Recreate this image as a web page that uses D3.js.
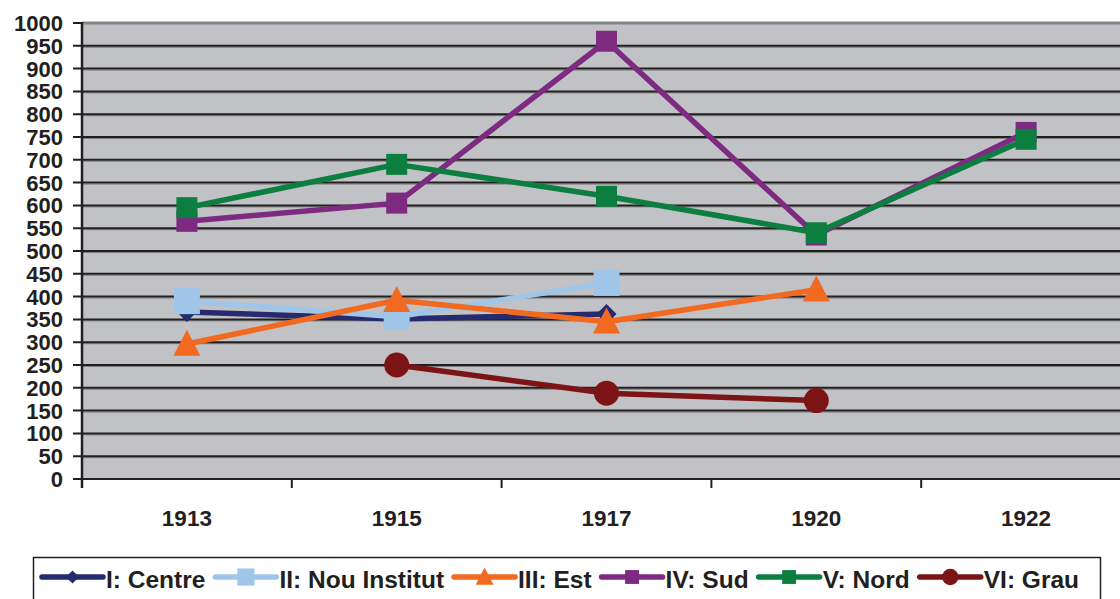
<!DOCTYPE html>
<html>
<head>
<meta charset="utf-8">
<script src="https://cdn.jsdelivr.net/npm/d3@7"></script>
<style>
  body { margin: 0; background: #fff; }
  text { font-family: "Liberation Sans", Arial, sans-serif; font-weight: bold; fill: #231f20; }
</style>
</head>
<body>
<div class="chart"></div>
<script>
const years = ["1913", "1915", "1917", "1920", "1922"];
const yTicks = d3.range(0, 1001, 50);

const centre = [366, 351, 362, null, null];
const nouInstitut = [390, 356, 430, null, null];
const est = [296, 392, 345, 415, null];
const sud = [565, 605, 960, 535, 760];
const nord = [595, 690, 620, 540, 745];
const grau = [null, 250, 188, 172, null];

const seriesNames = ["I: Centre", "II: Nou Institut", "III: Est", "IV: Sud", "V: Nord", "VI: Grau"];
const seriesValues = [centre, nouInstitut, est, sud, nord, grau];
const seriesColors = ["#262a6e", "#9fc6e8", "#f26a21", "#7e2a80", "#0b7e40", "#7c1416"];
const seriesMarkers = ["diamond", "square", "triangle", "square", "square", "circle"];
const seriesMarkerSize = [20, 26, 26, 21, 21, 25];

const W = 1120, H = 599;
const margin = { top: 23, left: 82, bottom: 119 };
const plotRight = 1131;

const svg = d3.select(".chart").append("svg")
  .attr("width", W).attr("height", H);

const x = d3.scaleBand().domain(years).range([margin.left, plotRight]).padding(0);
const y = d3.scaleLinear().domain([0, 1000]).range([H - margin.bottom - 1, margin.top]);

// plot background
svg.append("rect")
  .attr("x", margin.left).attr("y", y(1000))
  .attr("width", plotRight - margin.left).attr("height", y(0) - y(1000))
  .attr("fill", "#c1c2c5");

// gridlines
const grid = svg.append("g");
yTicks.filter(d => d > 0 && d < 1000).forEach(d => {
  grid.append("line")
    .attr("x1", margin.left).attr("x2", plotRight)
    .attr("y1", y(d) + 1.5).attr("y2", y(d) + 1.5)
    .attr("stroke", "#808080").attr("stroke-width", 1);
  grid.append("line")
    .attr("x1", margin.left - 9).attr("x2", plotRight)
    .attr("y1", y(d)).attr("y2", y(d))
    .attr("stroke", "#231f20").attr("stroke-width", 2);
});
// top border
svg.append("line")
  .attr("x1", margin.left).attr("x2", plotRight)
  .attr("y1", y(1000)).attr("y2", y(1000))
  .attr("stroke", "#858585").attr("stroke-width", 3);
svg.append("line")
  .attr("x1", margin.left - 9).attr("x2", margin.left)
  .attr("y1", y(1000)).attr("y2", y(1000))
  .attr("stroke", "#231f20").attr("stroke-width", 2);

// x axis
const xAxis = svg.append("g");
xAxis.append("line")
  .attr("x1", margin.left - 9).attr("x2", plotRight)
  .attr("y1", y(0)).attr("y2", y(0))
  .attr("stroke", "#231f20").attr("stroke-width", 2);
years.concat(["end"]).forEach((d, i) => {
  const xx = margin.left + i * x.bandwidth();
  xAxis.append("line")
    .attr("x1", xx).attr("x2", xx)
    .attr("y1", y(0)).attr("y2", y(0) + 9)
    .attr("stroke", "#231f20").attr("stroke-width", 2);
});
xAxis.selectAll("text.xl")
  .data(years)
  .join("text")
  .attr("class", "xl")
  .attr("x", d => x(d) + x.bandwidth() / 2)
  .attr("y", 526)
  .attr("text-anchor", "middle")
  .attr("font-size", 22.5)
  .text(d => d);

// y axis
svg.append("line")
  .attr("x1", margin.left).attr("x2", margin.left)
  .attr("y1", y(1000) - 1).attr("y2", y(0) + 9)
  .attr("stroke", "#231f20").attr("stroke-width", 2.5);
svg.selectAll("text.yl")
  .data(yTicks)
  .join("text")
  .attr("class", "yl")
  .attr("x", 63)
  .attr("y", d => y(d) + 8)
  .attr("text-anchor", "end")
  .attr("font-size", 22)
  .text(d => d);

function markerPath(type, s) {
  if (type === "square") return `M${-s/2},${-s/2}h${s}v${s}h${-s}Z`;
  if (type === "diamond") return `M0,${-s/2}L${s/2},0L0,${s/2}L${-s/2},0Z`;
  if (type === "triangle") return `M0,${-s*0.55}L${s*0.52},${s*0.45}L${-s*0.52},${s*0.45}Z`;
  return d3.symbol(d3.symbolCircle, Math.PI * (s/2) * (s/2))();
}

const line = d3.line()
  .defined(d => d.v !== null)
  .x(d => x(d.year) + x.bandwidth() / 2)
  .y(d => y(d.v));

seriesValues.forEach((vals, i) => {
  const pts = years.map((yr, j) => ({ year: yr, v: vals[j] }));
  const g = svg.append("g");
  g.append("path")
    .attr("d", line(pts))
    .attr("fill", "none")
    .attr("stroke", seriesColors[i])
    .attr("stroke-width", 5.5)
    .attr("stroke-linejoin", "round");
  g.selectAll("path.m")
    .data(pts.filter(d => d.v !== null))
    .join("path")
    .attr("class", "m")
    .attr("transform", d => `translate(${x(d.year) + x.bandwidth() / 2},${y(d.v)})`)
    .attr("d", markerPath(seriesMarkers[i], seriesMarkerSize[i]))
    .attr("fill", seriesColors[i]);
});

// legend
const legend = svg.append("g");
legend.append("rect")
  .attr("x", 33.5).attr("y", 557.5)
  .attr("width", 1067).attr("height", 60)
  .attr("fill", "#fff").attr("stroke", "#231f20").attr("stroke-width", 1.5);
let lx = 42;
seriesNames.forEach((name, i) => {
  const ly = 577;
  legend.append("line")
    .attr("x1", lx).attr("x2", lx + 61)
    .attr("y1", ly).attr("y2", ly)
    .attr("stroke", seriesColors[i]).attr("stroke-width", 5.5)
    .attr("stroke-linecap", "round");
  legend.append("path")
    .attr("transform", `translate(${lx + 30.5},${ly})`)
    .attr("d", markerPath(seriesMarkers[i], seriesMarkerSize[i] * 0.66))
    .attr("fill", seriesColors[i]);
  const t = legend.append("text")
    .attr("x", lx + 64).attr("y", 588)
    .attr("font-size", 24.5)
    .text(name);
  lx = lx + 64 + t.node().getComputedTextLength() + 10;
});
</script>
</body>
</html>
